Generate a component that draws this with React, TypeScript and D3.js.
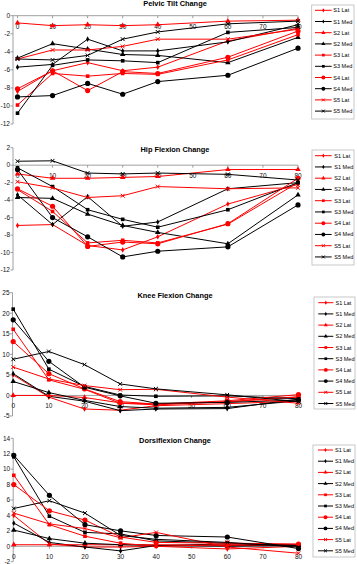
import React from "react";
import * as d3 from "d3";

const xValues = [0, 10, 20, 30, 40, 60, 80];
const xTicks = [0, 10, 20, 30, 40, 50, 60, 70, 80];
const seriesNames = ["S1 Lat", "S1 Med", "S2 Lat", "S2 Med", "S3 Lat", "S3 Med", "S4 Lat", "S4 Med", "S5 Lat", "S5 Med"];
const seriesColors = ["#ff0000", "#000000", "#ff0000", "#000000", "#ff0000", "#000000", "#ff0000", "#000000", "#ff0000", "#000000"];
const seriesMarkers = ["diamond", "diamond", "triangle", "triangle", "square", "square", "circle", "circle", "x", "x"];

// Pelvic Tilt Change (order = seriesNames)
const pelvicTilt = [
  [-8.4, -6.1, -5.2, -6.1, -5.7, -2.8, -1.4],
  [-5.7, -5.4, -2.6, -3.9, -3.9, -2.9, -1.0],
  [-0.8, -1.1, -1.0, -1.1, -1.0, -0.6, -0.5],
  [-4.7, -3.1, -3.7, -4.3, -4.4, -5.2, -2.4],
  [-9.9, -6.4, -6.7, -6.4, -6.5, -4.9, -2.1],
  [-10.8, -5.5, -4.9, -5.0, -5.2, -1.85, -1.3],
  [-8.1, -6.1, -8.3, -6.2, -6.4, -4.6, -1.7],
  [-9.0, -8.85, -7.5, -8.7, -7.3, -6.6, -3.6],
  [-4.8, -3.8, -3.8, -3.4, -2.6, -2.6, -1.5],
  [-4.8, -4.9, -4.4, -2.6, -1.8, -0.9, -0.6],
];

// Hip Flexion Change
const hipFlexion = [
  [-6.9, -6.8, -9.2, -9.7, -8.2, -4.45, -2.2],
  [-3.4, -6.8, -3.6, -7.0, -6.5, -2.7, -2.0],
  [-1.0, -1.5, -1.5, -1.4, -1.3, -0.5, -0.5],
  [-3.7, -3.8, -5.6, -6.9, -7.7, -9.0, -3.4],
  [-2.8, -5.3, -8.9, -8.6, -8.9, -6.75, -2.0],
  [-0.3, -2.45, -5.1, -6.2, -7.1, -5.1, -2.0],
  [-2.7, -4.7, -9.3, -8.8, -9.0, -6.7, -1.5],
  [-0.5, -6.0, -8.2, -10.5, -9.85, -9.35, -4.55],
  [-1.9, -2.6, -3.7, -3.5, -2.45, -2.7, -2.6],
  [0.45, 0.5, -0.9, -1.0, -0.9, -1.05, -1.7],
];

// Knee Flexion Change
const kneeFlexion = [
  [5.0, -0.4, -3.3, -3.6, -2.5, -2.0, -1.4],
  [5.3, -0.2, -1.4, -3.7, -3.3, -3.2, -0.9],
  [0, 0, -0.5, -1.8, -2.1, -1.6, -0.3],
  [3.4, 0.7, -1.2, -2.7, -3.1, -2.9, -1.3],
  [16.1, 3.8, 1.5, -1.9, -2.3, -1.5, -0.4],
  [21.0, 6.4, 2.2, 0.1, -0.2, -0.1, -0.8],
  [13.1, 5.3, 1.6, -1.5, -2.1, -1.3, 0.2],
  [18.4, 8.3, 2.0, -0.1, -1.9, -1.7, -1.1],
  [6.9, 4.0, 2.4, 1.4, 1.5, -0.4, -1.9],
  [8.8, 10.7, 7.5, 2.8, 1.6, 0.15, -1.5],
];

// Dorsiflexion Change
const dorsiflexion = [
  [4.0, 0.3, -0.1, -0.1, 0.0, -0.35, 0.0],
  [3.0, 0.5, -0.1, -0.6, 0.1, 0.3, 0.2],
  [0.2, 0.2, 0.2, 0.2, 0.2, 0.1, 0.1],
  [2.1, 1.0, 0.4, 0.2, 0.1, 0.0, 0.1],
  [9.2, 2.8, 1.3, 0.4, 0.0, 0.2, 0.2],
  [11.6, 3.9, 1.8, 1.6, 0.7, 0.4, 0.1],
  [8.0, 4.6, 3.4, 1.2, 0.5, 0.4, 0.3],
  [11.8, 6.6, 2.8, 2.0, 1.4, 1.2, -0.3],
  [4.3, 2.9, 2.3, 1.1, 1.8, -0.1, -0.9],
  [4.9, 5.9, 4.3, 1.4, 0.9, 0.5, -0.1],
];

const pelvicTicks = [-12, -10, -8, -6, -4, -2, 0];
const hipTicks = [-12, -10, -8, -6, -4, -2, 0, 2];
const kneeTicks = [-5, 0, 5, 10, 15, 20, 25];
const dorsiTicks = [-2, 0, 2, 4, 6, 8, 10, 12, 14];

const panels = [
  {
    title: "Pelvic Tilt Change", data: pelvicTilt, yTicks: pelvicTicks, yDomain: [-12, 0], yRange: [124, 15.7],
    xRange: [17.5, 298], axisX: 13, titleY: 6.3,
    legend: { x0: 311.7, y0: 5, x1: 354, y1: 119, first: 10.3, step: 11.2, lx0: 315, lx1: 331.7, tx: 333.3 },
  },
  {
    title: "Hip Flexion Change", data: hipFlexion, yTicks: hipTicks, yDomain: [-12, 2], yRange: [270, 147.7],
    xRange: [17.5, 298], axisX: 13, titleY: 151.5,
    legend: { x0: 312, y0: 150, x1: 354, y1: 265, first: 155.7, step: 11.25, lx0: 315, lx1: 331.7, tx: 334.3 },
  },
  {
    title: "Knee Flexion Change", data: kneeFlexion, yTicks: kneeTicks, yDomain: [-5, 25], yRange: [416, 292.7],
    xRange: [13.2, 298.5], axisX: 12.5, titleY: 297.5,
    legend: { x0: 314, y0: 297, x1: 355, y1: 409, first: 302.7, step: 11.2, lx0: 318.3, lx1: 333.3, tx: 335.5 },
  },
  {
    title: "Dorsiflexion Change", data: dorsiflexion, yTicks: dorsiTicks, yDomain: [-2, 14], yRange: [561.7, 438.3],
    xRange: [13.8, 298.5], axisX: 13.2, titleY: 443,
    legend: { x0: 313, y0: 445, x1: 355, y1: 557, first: 450, step: 11.2, lx0: 318, lx1: 333, tx: 335 },
  },
];

const FONT = "'Liberation Sans', Arial, sans-serif";

function Marker({ type, x, y, color, scale = 1 }: { type: string; x: number; y: number; color: string; scale?: number }) {
  if (type === "x") {
    const h = 1.9 * scale;
    return (
      <path d={`M${x - h},${y - h}L${x + h},${y + h}M${x - h},${y + h}L${x + h},${y - h}`} stroke={color} strokeWidth={1} fill="none" />
    );
  }
  const sym =
    type === "diamond" ? d3.symbolDiamond : type === "triangle" ? d3.symbolTriangle : type === "square" ? d3.symbolSquare : d3.symbolCircle;
  const size = type === "diamond" ? 9 : type === "triangle" ? 13 : type === "square" ? 13 : 21;
  const p = d3.symbol().type(sym).size(size * scale * scale)();
  return <path d={p || ""} transform={`translate(${x},${y})`} fill={color} stroke="none" />;
}

function Panel({ cfg }: { cfg: (typeof panels)[number] }) {
  const x = d3.scaleLinear().domain([0, 80]).range(cfg.xRange);
  const y = d3.scaleLinear().domain(cfg.yDomain).range(cfg.yRange);
  const y0 = y(0);
  const line = d3
    .line<number>()
    .x((_, i) => x(xValues[i]))
    .y((d) => y(d));
  const lg = cfg.legend;
  return (
    <g>
      {/* axes */}
      <line x1={cfg.axisX} x2={cfg.axisX} y1={cfg.yRange[1]} y2={cfg.yRange[0]} stroke="#888" strokeWidth={0.8} />
      {cfg.yTicks.map((t) => (
        <g key={"yt" + t}>
          <line x1={cfg.axisX - 2.5} x2={cfg.axisX} y1={y(t)} y2={y(t)} stroke="#888" strokeWidth={0.8} />
          <text x={cfg.axisX - 3} y={y(t) + 2.3} fontSize={6.5} textAnchor="end" fontFamily={FONT} fill="#111">
            {t}
          </text>
        </g>
      ))}
      <line x1={cfg.axisX} x2={cfg.xRange[1]} y1={y0} y2={y0} stroke="#888" strokeWidth={0.8} />
      {xTicks.map((t) => (
        <g key={"xt" + t}>
          <line x1={x(t)} x2={x(t)} y1={y0} y2={y0 + 2.5} stroke="#888" strokeWidth={0.8} />
          <text x={x(t)} y={y0 + 12.8} fontSize={6.5} textAnchor="middle" fontFamily={FONT} fill="#111">
            {t}
          </text>
        </g>
      ))}
      {/* series */}
      {cfg.data.map((vals, si) => (
        <g key={"s" + si}>
          <path d={line(vals) || ""} fill="none" stroke={seriesColors[si]} strokeWidth={1} />
          {vals.map((v, i) => (
            <Marker key={i} type={seriesMarkers[si]} x={x(xValues[i])} y={y(v)} color={seriesColors[si]} />
          ))}
        </g>
      ))}
      {/* title */}
      <text x={175} y={cfg.titleY} fontSize={7.4} fontWeight="bold" textAnchor="middle" fontFamily={FONT} fill="#000">
        {cfg.title}
      </text>
      {/* legend */}
      <rect x={lg.x0} y={lg.y0} width={lg.x1 - lg.x0} height={lg.y1 - lg.y0} fill="#fff" stroke="#bbb" strokeWidth={0.8} />
      {seriesNames.map((n, i) => {
        const ly = lg.first + i * lg.step;
        return (
          <g key={"lg" + i}>
            <line x1={lg.lx0} x2={lg.lx1} y1={ly} y2={ly} stroke={seriesColors[i]} strokeWidth={1} />
            <Marker type={seriesMarkers[i]} x={(lg.lx0 + lg.lx1) / 2} y={ly} color={seriesColors[i]} scale={0.75} />
            <text x={lg.tx} y={ly + 2} fontSize={5.5} fontFamily={FONT} fill="#000">
              {n}
            </text>
          </g>
        );
      })}
    </g>
  );
}

export default function App() {
  return (
    <svg
      width={357}
      height={564}
      viewBox="0 0 357 564"
      style={{ position: "absolute", left: 0, top: 0, background: "#fff" }}
    >
      <rect x={0} y={0} width={357} height={564} fill="#fff" />
      {panels.map((p, i) => (
        <Panel key={i} cfg={p} />
      ))}
    </svg>
  );
}
